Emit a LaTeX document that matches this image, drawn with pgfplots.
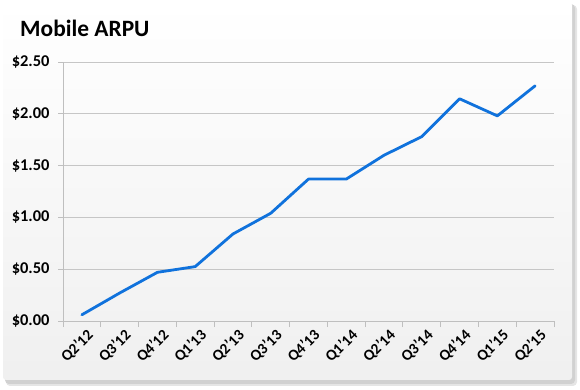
\documentclass[border=0pt]{standalone}
\usepackage{pgfplots}
\pgfplotsset{compat=1.18}
\usepackage{fontspec}
\setmainfont{Carlito}
\definecolor{linec}{RGB}{16,114,220}
\begin{document}
\begin{tikzpicture}
\fill[black!10, rounded corners=4bp] (6bp,4bp) rectangle (577bp,385bp);
\fill[black!18, rounded corners=4bp] (5bp,6bp) rectangle (575bp,386bp);
\shade[top color=white, bottom color=black!6, rounded corners=3bp] (3bp,10bp) rectangle (572bp,388bp);
\node[anchor=base west, inner sep=0pt, font=\fontsize{23.5}{27}\selectfont\bfseries] at (20bp,353bp) {Mobile ARPU};
\begin{axis}[
  at={(63bp,69bp)}, anchor=south west, scale only axis,
  width=491bp, height=259bp,
  xmin=-0.5, xmax=12.5, ymin=0, ymax=2.5,
  axis lines*=left,
  axis line style={draw=gray!50, line width=1bp},
  ytick={0,0.5,1,1.5,2,2.5},
  yticklabels={\$0.00,\$0.50,\$1.00,\$1.50,\$2.00,\$2.50},
  xtick={0,...,12},
  xticklabels={Q2'12,Q3'12,Q4'12,Q1'13,Q2'13,Q3'13,Q4'13,Q1'14,Q2'14,Q3'14,Q4'14,Q1'15,Q2'15},
  minor xtick={-0.5,0.5,...,12.5},
  ymajorgrids,
  major grid style={draw=gray!45, line width=0.8bp},
  tick align=outside,
  major tick length=5bp,
  minor tick length=6bp,
  major x tick style={draw=none},
  minor x tick style={draw=gray!50, line width=1bp},
  major y tick style={draw=gray!50, line width=1bp},
  /pgf/number format/assume math mode=true,
  yticklabel style={font=\fontsize{16.5}{19}\selectfont\bfseries, anchor=east, xshift=-5bp},
  xticklabel style={font=\fontsize{15.5}{18}\selectfont\bfseries, rotate=45, anchor=east, xshift=5bp, yshift=-11bp},
]
\addplot[linec, line width=2.8bp, line join=round, line cap=round] coordinates {
(0,0.06) (1,0.27) (2,0.47) (3,0.525) (4,0.84) (5,1.04) (6,1.37) (7,1.37) (8,1.60) (9,1.78) (10,2.145) (11,1.98) (12,2.27)
};
\end{axis}
\pgfresetboundingbox
\path[use as bounding box] (0,0) rectangle (580bp,390bp);
\end{tikzpicture}
\end{document}
